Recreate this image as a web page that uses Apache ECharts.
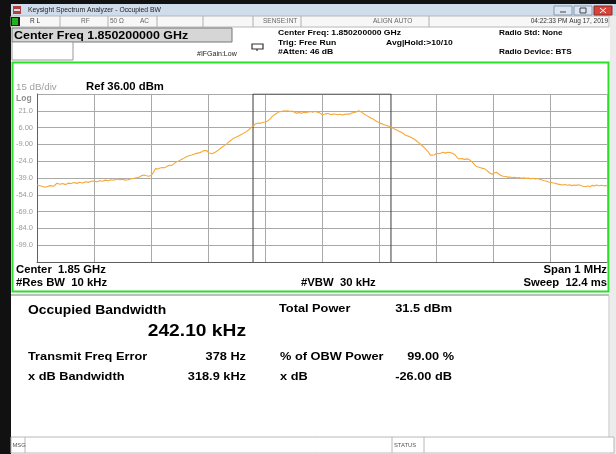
<!DOCTYPE html>
<html>
<head>
<meta charset="utf-8">
<script src="https://cdn.jsdelivr.net/npm/echarts@6/dist/echarts.min.js"></script>
<style>html,body{margin:0;padding:0;background:#fff;}#c{width:616px;height:454px;}</style>
</head>
<body>
<div id="c"></div>
<script>
// ---- data ----
// frequency offset from centre (kHz) and trace level (dBm)
const freqOffsetKHz = [-500,-495,-490,-486,-481,-476,-471,-465,-460,-455,-450,-445,-440,-435,-430,-425,-420,-415,-410,-405,-400,-395,-390,-385,-380,-375,-370,-365,-360,-355,-350,-345,-340,-335,-330,-325,-320,-316,-312,-308,-304,-300,-296,-292,-288,-284,-280,-276,-272,-268,-264,-260,-256,-252,-248,-244,-240,-236,-232,-228,-224,-220,-216,-212,-208,-205,-202,-199,-196,-193,-190,-186,-182,-179,-175,-171,-167,-163,-160,-156,-152,-148,-144,-140,-136,-132,-128,-124,-120,-116,-112,-108,-104,-100,-96,-92,-88,-84,-80,-76,-72,-68,-64,-60,-56,-52,-48,-44,-40,-36,-32,-28,-24,-20,-16,-12,-8,-4,0,4,8,12,16,20,24,28,32,36,40,44,48,52,56,60,64,67,70,74,78,82,86,90,94,98,102,106,110,114,118,122,126,130,134,138,142,146,150,154,158,162,166,170,174,178,182,186,190,193,197,201,205,209,213,217,221,225,229,233,236,239,242,246,250,254,258,262,266,270,274,278,282,286,290,294,298,302,306,310,314,318,322,326,330,334,338,342,346,350,354,358,362,366,370,374,378,382,386,390,394,398,402,406,410,414,418,422,426,430,434,438,442,446,450,454,458,462,466,470,474,478,482,486,490,494,498,500];
const traceDbm = [-45.3,-45.9,-46.6,-47.3,-46.5,-45.8,-46.4,-43.7,-44.6,-44.0,-44.9,-43.6,-43.9,-43.1,-43.8,-42.8,-43.5,-42.4,-42.9,-41.9,-41.7,-42.3,-41.4,-41.9,-40.9,-41.5,-40.6,-41.0,-39.9,-40.5,-40.2,-40.9,-40.6,-39.6,-39.3,-38.7,-38.1,-36.8,-36.4,-37.0,-37.4,-36.8,-34.2,-30.6,-30.9,-30.1,-29.6,-29.9,-28.6,-27.6,-27.9,-26.4,-24.6,-24.1,-22.8,-21.9,-20.6,-19.6,-18.9,-18.4,-17.6,-17.0,-16.6,-15.9,-14.6,-13.4,-14.5,-16.4,-17.8,-17.4,-16.6,-15.6,-14.1,-12.5,-11.3,-9.9,-8.6,-6.6,-5.4,-3.8,-2.9,-1.9,-0.9,0.2,1.5,2.6,4.3,6.2,7.6,9.5,10.1,9.8,10.6,11.0,11.6,13.4,15.6,17.3,18.6,20.0,20.4,20.9,20.7,21.1,20.4,20.8,19.6,18.9,19.4,18.7,19.8,19.3,20.0,20.3,19.7,20.6,19.8,19.2,17.6,17.9,18.6,18.3,17.6,18.1,17.9,17.4,17.9,17.2,17.8,18.2,18.0,19.1,19.6,20.0,21.0,20.8,19.6,18.2,16.9,15.6,14.4,13.6,12.1,11.1,9.8,9.3,8.4,7.9,6.9,6.2,5.0,4.1,3.0,2.0,0.9,-0.6,-1.4,-2.1,-3.2,-4.4,-6.0,-7.6,-9.3,-11.1,-13.3,-15.4,-18.6,-20.0,-18.4,-16.9,-17.3,-16.6,-16.1,-16.8,-16.0,-16.3,-17.2,-18.1,-18.5,-21.8,-22.3,-21.7,-22.4,-21.9,-22.3,-24.1,-26.2,-28.5,-29.2,-29.8,-30.4,-30.9,-32.6,-34.3,-35.7,-34.6,-33.9,-35.4,-36.8,-37.4,-37.6,-38.2,-38.1,-38.7,-38.4,-39.0,-38.6,-39.3,-38.9,-39.3,-39.1,-39.7,-39.3,-39.9,-39.5,-40.1,-40.8,-41.4,-41.9,-42.5,-42.9,-43.4,-43.8,-44.5,-44.9,-45.3,-44.8,-45.5,-45.1,-45.8,-45.2,-45.6,-45.0,-45.7,-46.3,-46.8,-46.1,-46.6,-45.6,-46.2,-45.3,-45.9,-45.4,-46.0,-45.7,-45.9];
// occupied bandwidth markers (kHz offset)
const obwEdgesKHz = [-121, 121];
// amplitude axis (dBm): reference level 36 dBm, 15 dB/div
const yGridValues = [36, 21, 6, -9, -24, -39, -54, -69, -84, -99, -114];
const yLabelValues = [21, 6, -9, -24, -39, -54, -69, -84, -99];
const yTickLabels = ['21.0', '6.00', '-9.00', '-24.0', '-39.0', '-54.0', '-69.0', '-84.0', '-99.0'];
const xGridStepKHz = 100;

const F = '"Liberation Sans", Arial, sans-serif';
const SX = 1.13;
const chart = echarts.init(document.getElementById('c'), null, {renderer: 'canvas'});

function txt(x, y, s, size, opts) {
  opts = opts || {};
  return {type: 'text', z: 50, silent: true, x: x, y: y, scaleX: opts.sx || 1,
    style: {x: 0, y: 0, text: s, font: (opts.bold ? 'bold ' : '') + size + 'px ' + F,
      fill: opts.color || '#000', textAlign: opts.align || 'left', textVerticalAlign: 'middle'}};
}
function rect(x, y, w, h, fill, stroke, lw, z) {
  return {type: 'rect', z: z || 10, silent: true, shape: {x: x, y: y, width: w, height: h},
    style: {fill: fill, stroke: stroke || null, lineWidth: lw || 1}};
}
function line(x1, y1, x2, y2, color, lw, z) {
  return {type: 'line', z: z || 20, silent: true, shape: {x1: x1, y1: y1, x2: x2, y2: y2},
    style: {stroke: color, lineWidth: lw || 1}};
}

const g = [];
// window frame
g.push(rect(0, 0, 616, 454, '#ffffff', null, 1, 1));
g.push(rect(0, 0, 616, 4, '#111111', null, 1, 2));
g.push(rect(0, 0, 11, 454, '#111111', null, 1, 2));
g.push(rect(610, 16, 6, 438, '#ececec', null, 1, 2));
// title bar
g.push(rect(11, 4, 605, 12, '#cfdcec', null, 1, 3));
g.push(rect(13, 6, 8, 8, '#b04040', null, 1, 4));
g.push(rect(14, 9, 6, 2, '#e0e0e0', null, 1, 5));
g.push(txt(28, 10.5, 'Keysight Spectrum Analyzer - Occupied BW', 6.8, {color: '#222'}));
g.push(rect(554, 6, 18, 9, '#dce6f2', '#8899aa', 1, 4));
g.push(rect(574, 6, 18, 9, '#dce6f2', '#8899aa', 1, 4));
g.push(rect(594, 6, 18, 9, '#d8443a', '#8a2a22', 1, 4));
g.push(line(560, 12, 566, 12, '#444', 1, 6));
g.push(rect(580, 8, 6, 5, null, '#444', 1, 6));
g.push(line(600, 8, 606, 13, '#fff', 1, 6));
g.push(line(606, 8, 600, 13, '#fff', 1, 6));
// status row
g.push(rect(11, 16, 598, 11, '#f7f7f7', '#b8b8b8', 1, 3));
g.push(rect(11, 17, 9, 9, '#1a1a1a', null, 1, 4));
g.push(rect(12, 18, 6, 7, '#20b020', null, 1, 5));
[60, 108, 157, 203, 253, 301, 429].forEach(x => g.push(line(x, 16, x, 27, '#b0b0b0', 1, 4)));
g.push(txt(30, 21.5, 'R L', 6.5, {color: '#333'}));
g.push(txt(81, 21.5, 'RF', 6.5, {color: '#666'}));
g.push(txt(110, 21.5, '50 Ω', 6.5, {color: '#666'}));
g.push(txt(140, 21.5, 'AC', 6.5, {color: '#666'}));
g.push(txt(263, 21.5, 'SENSE:INT', 6.5, {color: '#666'}));
g.push(txt(373, 21.5, 'ALIGN AUTO', 6.5, {color: '#666'}));
g.push(txt(608, 21.5, '04:22:33 PM Aug 17, 2019', 6.5, {color: '#333', align: 'right'}));
// centre freq box
g.push(rect(12, 28, 220, 14, '#d6d6d6', '#777', 1, 4));
g.push(txt(14, 35.5, 'Center Freq 1.850200000 GHz', 11, {bold: true, sx: SX}));
g.push(rect(12, 42, 61, 18, '#ffffff', '#999', 1, 4));
g.push(txt(197, 54.5, '#IFGain:Low', 7, {color: '#222'}));
g.push(rect(252, 44, 11, 5, '#fff', '#333', 1.2, 4));
g.push(line(257, 49, 257, 51, '#333', 1.2, 5));
g.push(txt(278, 33, 'Center Freq: 1.850200000 GHz', 7.8, {bold: true, sx: 1.1}));
g.push(txt(278, 42.5, 'Trig: Free Run', 7.8, {bold: true, sx: 1.1}));
g.push(txt(278, 52.3, '#Atten: 46 dB', 7.8, {bold: true, sx: 1.1}));
g.push(txt(386, 42.5, 'Avg|Hold:>10/10', 7.8, {bold: true, sx: 1.1}));
g.push(txt(499, 33, 'Radio Std: None', 7.8, {bold: true, sx: 1.05}));
g.push(txt(499, 52.3, 'Radio Device: BTS', 7.8, {bold: true, sx: 1.05}));
// green trace window
g.push(rect(12.5, 62.5, 596, 229, '#ffffff', '#2be02b', 2, 6));
g.push(txt(16, 88, '15 dB/div', 8.5, {color: '#a0a0a0', sx: 1.15}));
g.push(txt(86, 87.5, 'Ref 36.00 dBm', 10, {bold: true, sx: SX}));
g.push(txt(16, 98.5, 'Log', 8.5, {color: '#909090', bold: true}));
g.push(txt(16, 270, 'Center  1.85 GHz', 10, {bold: true, sx: SX}));
g.push(txt(16, 283, '#Res BW  10 kHz', 10, {bold: true, sx: SX}));
g.push(txt(301, 283, '#VBW  30 kHz', 10, {bold: true, sx: SX}));
g.push(txt(607, 270, 'Span 1 MHz', 10, {bold: true, align: 'right', sx: SX}));
g.push(txt(607, 283, 'Sweep  12.4 ms', 10, {bold: true, align: 'right', sx: SX}));
// results panel
g.push(line(11, 295, 609, 295, '#a8a8a8', 1.5, 7));
g.push(line(609, 295, 609, 437, '#c0c0c0', 1, 7));
g.push(txt(28, 310.5, 'Occupied Bandwidth', 12.3, {bold: true, sx: SX}));
g.push(txt(246, 331, '242.10 kHz', 17, {bold: true, align: 'right', sx: SX}));
g.push(txt(279, 308.5, 'Total Power', 11.3, {bold: true, sx: SX}));
g.push(txt(452, 308.5, '31.5 dBm', 11.3, {bold: true, align: 'right', sx: SX}));
g.push(txt(28, 356.5, 'Transmit Freq Error', 11.3, {bold: true, sx: SX}));
g.push(txt(246, 356.5, '378 Hz', 11.3, {bold: true, align: 'right', sx: SX}));
g.push(txt(280, 356.5, '% of OBW Power', 11.3, {bold: true, sx: SX}));
g.push(txt(454, 356.5, '99.00 %', 11.3, {bold: true, align: 'right', sx: SX}));
g.push(txt(28, 377, 'x dB Bandwidth', 11.3, {bold: true, sx: SX}));
g.push(txt(246, 377, '318.9 kHz', 11.3, {bold: true, align: 'right', sx: SX}));
g.push(txt(280, 377, 'x dB', 11.3, {bold: true, sx: SX}));
g.push(txt(452, 377, '-26.00 dB', 11.3, {bold: true, align: 'right', sx: SX}));
// message bar
g.push(rect(11, 437, 603, 16, '#ffffff', '#b8b8b8', 1, 7));
g.push(line(25, 437, 25, 453, '#b8b8b8', 1, 8));
g.push(line(392, 437, 392, 453, '#b8b8b8', 1, 8));
g.push(line(424, 437, 424, 453, '#b8b8b8', 1, 8));
g.push(txt(12.5, 445, 'MSG', 5.8, {color: '#555'}));
g.push(txt(394, 445, 'STATUS', 5.8, {color: '#555'}));

const yTop = yGridValues[0], yBottom = yGridValues[yGridValues.length - 1];
const option = {
  animation: false,
  backgroundColor: '#ffffff',
  graphic: {elements: g},
  grid: {left: 37, top: 94, width: 570, height: 168, show: false, z: 30},
  xAxis: {
    type: 'value', min: -500, max: 500, interval: xGridStepKHz, z: 30,
    axisLine: {show: true, onZero: false, lineStyle: {color: '#606060', width: 1}},
    axisTick: {show: false}, axisLabel: {show: false},
    splitLine: {show: true, lineStyle: {color: '#a9a9a9', width: 1}}
  },
  yAxis: {
    type: 'value', min: yBottom, max: yTop, z: 30,
    axisLine: {show: true, onZero: false, lineStyle: {color: '#606060', width: 1}},
    axisTick: {show: false, customValues: yGridValues},
    axisLabel: {show: true, customValues: yLabelValues, margin: 4, fontSize: 7.5,
      fontFamily: F, color: '#9a9a9a',
      formatter: v => yTickLabels[yLabelValues.indexOf(v)] || ''},
    splitLine: {show: true, lineStyle: {color: '#a9a9a9', width: 1}}
  },
  series: [{
    name: 'obw', type: 'line', z: 35, symbol: 'none', silent: true,
    data: [[obwEdgesKHz[0], yBottom], [obwEdgesKHz[0], yTop], [obwEdgesKHz[1], yTop], [obwEdgesKHz[1], yBottom]],
    lineStyle: {color: '#3a3a3a', width: 1}
  }, {
    name: 'trace', type: 'line', z: 40, symbol: 'none', silent: true,
    data: freqOffsetKHz.map((f, i) => [f, traceDbm[i]]),
    lineStyle: {color: '#f6a838', width: 1.1}
  }]
};
chart.setOption(option);
</script>
</body>
</html>
